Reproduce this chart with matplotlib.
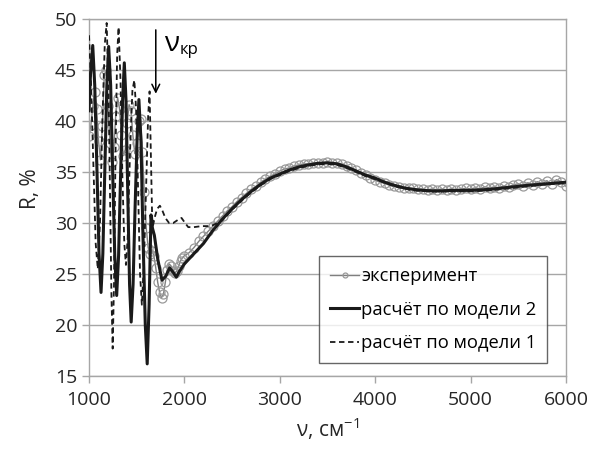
import matplotlib
matplotlib.use("Agg")
import matplotlib.pyplot as plt

plt.rcParams['font.family'] = ['Open Sans', 'DejaVu Sans']
plt.rcParams['mathtext.fontset'] = 'custom'
plt.rcParams['mathtext.rm'] = 'Open Sans'

# эксперимент
nu_exp = [1000, 1020, 1040, 1060, 1080, 1100, 1120, 1140, 1160, 1180, 1200, 1220, 1240, 1260,
          1280, 1300, 1320, 1340, 1360, 1380, 1400, 1420, 1440, 1460, 1480, 1500, 1520, 1540,
          1560, 1580, 1600, 1620, 1640, 1660, 1680, 1700, 1720, 1740, 1760, 1780, 1800, 1820,
          1840, 1860, 1880, 1900, 1920, 1940, 1960, 1980, 2000,
          2050, 2100, 2150, 2200, 2250, 2300, 2350, 2400, 2450, 2500, 2550, 2600, 2650, 2700,
          2750, 2800, 2850, 2900, 2950, 3000, 3050, 3100, 3150, 3200, 3250, 3300, 3350, 3400,
          3450, 3500, 3550, 3600, 3650, 3700, 3750, 3800, 3850, 3900, 3950, 4000, 4050, 4100,
          4150, 4200, 4250, 4300, 4350, 4400, 4450, 4500, 4550, 4600, 4650, 4700, 4750, 4800,
          4850, 4900, 4950, 5000, 5050, 5100, 5150, 5200, 5250, 5300, 5350, 5400, 5450, 5500,
          5550, 5600, 5650, 5700, 5750, 5800, 5850, 5900, 5950, 6000]
R_exp = [38.5, 39.6, 41.5, 42.8, 41.2, 38.0, 36.2, 39.5, 44.5, 45.0, 41.5, 37.8, 36.0, 37.5,
         40.5, 42.3, 41.2, 38.6, 36.6, 37.2, 39.8, 41.6, 41.0, 38.6, 36.8, 37.8, 40.0, 40.2,
         37.0, 33.0, 29.5, 27.6, 27.0, 27.3, 26.8, 25.6, 24.2, 23.2, 22.7, 23.0, 24.2, 25.4,
         26.0, 25.8, 25.3, 25.1, 25.3, 25.8, 26.3, 26.6, 26.8,
         27.1, 27.6, 28.2, 28.7, 29.2, 29.7, 30.2, 30.7, 31.2, 31.6, 32.1, 32.5, 32.9, 33.3,
         33.6, 34.0, 34.3, 34.6, 34.8, 35.1, 35.3, 35.4, 35.6, 35.7, 35.8, 35.8, 35.9, 35.9,
         35.9, 36.0, 35.9, 35.9, 35.8, 35.6, 35.4, 35.2, 34.9, 34.7, 34.4, 34.2, 34.0, 33.9,
         33.7, 33.6, 33.5, 33.45, 33.4, 33.4, 33.3, 33.35, 33.25, 33.35, 33.25, 33.35, 33.25, 33.35,
         33.25, 33.35, 33.4, 33.35, 33.45, 33.35, 33.55, 33.45, 33.55, 33.45, 33.65, 33.55, 33.75, 33.85,
         33.65, 33.95, 33.75, 34.05, 33.85, 34.15, 33.8, 34.25, 34.05, 33.6]

# расчёт по модели 2
nu_m2 = [1000, 1015, 1039, 1060, 1083, 1105, 1126, 1145, 1166, 1187, 1206, 1227, 1248, 1270,
         1290, 1310, 1330, 1352, 1370, 1388, 1406, 1425, 1442, 1462, 1482, 1505, 1523, 1545,
         1565, 1590, 1610, 1630, 1650, 1665, 1685, 1720, 1765, 1805, 1845, 1880, 1915, 1950,
         2000, 2100, 2200, 2300, 2400, 2500, 2600, 2700, 2800, 2900, 3000, 3100, 3200, 3300,
         3400, 3500, 3600, 3700, 3800, 3900, 4000, 4100, 4200, 4300, 4400, 4500, 4600, 4700,
         4800, 4900, 5000, 5200, 5400, 5600, 5800, 6000]
R_m2 = [41.0, 44.5, 47.4, 43.5, 35.3, 27.0, 23.2, 27.0, 35.3, 43.5, 47.3, 43.5, 35.0, 26.8,
        22.9, 26.8, 34.3, 42.0, 45.7, 42.0, 33.0, 24.0, 20.3, 24.0, 31.2, 38.5, 42.1, 38.0,
        29.0, 20.0, 16.2, 22.0, 30.8, 29.5, 28.8, 26.5, 24.4, 24.8, 25.6, 25.2, 24.7, 25.3,
        26.0, 27.0, 28.0, 29.3, 30.4, 31.4, 32.3, 33.1, 33.8, 34.4, 34.8, 35.2, 35.5, 35.7,
        35.85, 35.9, 35.8, 35.5, 35.1, 34.7, 34.4, 34.0, 33.7, 33.45, 33.3, 33.2, 33.15, 33.15,
        33.2, 33.2, 33.2, 33.3, 33.5, 33.7, 33.85, 34.0]

# расчёт по модели 1
nu_m1 = [1000, 1020, 1045, 1070, 1092, 1115, 1140, 1165, 1185, 1205, 1220, 1235, 1248, 1262,
         1278, 1295, 1310, 1330, 1350, 1370, 1387, 1405, 1430, 1455, 1475, 1495, 1515, 1535,
         1554, 1575, 1600, 1620, 1635, 1650, 1662, 1672, 1690, 1715, 1743, 1770, 1800, 1840,
         1882, 1930, 1970, 2000, 2040, 2100, 2180, 2249, 2300, 2370, 2400, 2500, 2600, 2700,
         2800, 2900, 3000, 3100, 3200, 3300, 3400, 3500, 3600, 3700, 3800, 3900, 4000, 4200,
         4400, 4600, 4800, 5000, 5200, 5400, 5600, 5800, 6000]
R_m1 = [48.4, 44.0, 36.0, 28.0, 25.5, 30.0, 40.0, 47.5, 49.6, 43.0, 33.0, 23.0, 17.7, 24.0,
        37.0, 46.5, 49.2, 44.0, 34.5, 28.0, 25.9, 28.5, 37.0, 43.0, 44.0, 41.0, 33.0, 25.0,
        22.0, 26.0, 34.0, 40.5, 42.9, 36.0, 30.5, 29.8, 30.6, 31.4, 31.7, 31.2, 30.5, 30.0,
        30.0, 30.3, 30.5, 30.1, 29.6, 29.6, 29.7, 29.7, 29.8, 30.1, 30.3, 31.3, 32.2, 33.0,
        33.7, 34.3, 34.7, 35.1, 35.4, 35.6, 35.75, 35.8, 35.7, 35.4, 35.0, 34.6, 34.3, 33.6,
        33.2, 33.1, 33.1, 33.1, 33.2, 33.4, 33.6, 33.8, 33.9]

nu_kr = 1700

fig = plt.figure(figsize=(5.95, 4.51), dpi=100)
ax = fig.add_axes([0.1496, 0.166, 0.8016, 0.792])

ax.plot(nu_exp, R_exp, color='#7f7f7f', lw=1, marker='o', ms=6.5, mfc='none',
        mec='#999999', mew=0.9, label='эксперимент', zorder=2)
ax.plot(nu_m2, R_m2, color='#1a1a1a', lw=2.2, label='расчёт по модели 2', zorder=3)
ax.plot(nu_m1, R_m1, color='#1a1a1a', lw=1.3, ls=(0, (3, 2)), label='расчёт по модели 1', zorder=4)

ax.annotate('', xy=(nu_kr, 42.4), xytext=(nu_kr, 49.2),
            arrowprops=dict(arrowstyle='->', color='black', lw=1.1, mutation_scale=14))
ax.text(1790, 46.9, 'ν', fontsize=20, ha='left', va='baseline')
ax.text(1950, 46.6, 'кр', fontsize=12, ha='left', va='baseline')

ax.set_xlim(1000, 6000)
ax.set_ylim(15, 50)
ax.set_xticks(range(1000, 6001, 1000))
ax.set_yticks(range(15, 51, 5))
ax.grid(axis='y', color='#a6a6a6', lw=1)
ax.set_axisbelow(True)
for s in ax.spines.values():
    s.set_color('#a6a6a6')
    s.set_linewidth(1)
ax.tick_params(colors='#a6a6a6', labelcolor='#262626', labelsize=14, length=5, width=1)
ax.tick_params(axis='x', pad=6)

ax.set_xlabel('ν, см$^{-1}$', fontsize=15, color='#262626', labelpad=4)
ax.set_ylabel('R, %', fontsize=15, color='#262626')
ax.yaxis.set_label_coords(-0.1, 0.525)

leg = ax.legend(loc='upper right', bbox_to_anchor=(0.961, 0.336), fontsize=13.2,
                frameon=True, fancybox=False, edgecolor='#404040', handlelength=1.6,
                handletextpad=0.1, borderpad=0.6, labelspacing=0.85, markerscale=0.55,
                borderaxespad=0)
leg.get_frame().set_linewidth(1)

fig.savefig('out.png', dpi=100)
